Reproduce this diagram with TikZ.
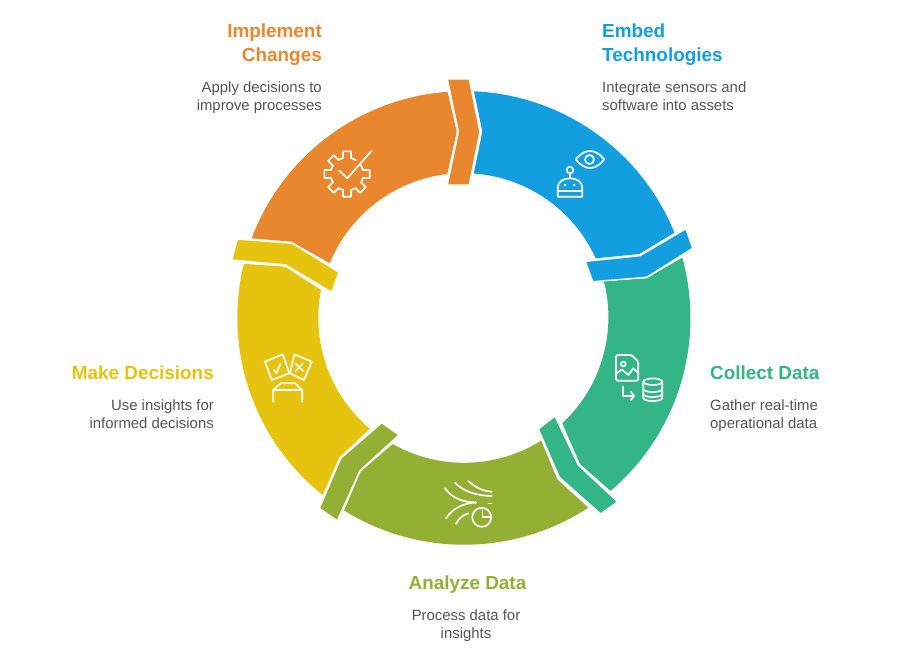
\documentclass[tikz,border=0pt]{standalone}
\usepackage{fontspec}
\setmainfont{Liberation Sans}
\definecolor{embedblue}{HTML}{139FDF}
\definecolor{changeorange}{HTML}{E9872E}
\definecolor{decideyellow}{HTML}{E5C30E}
\definecolor{analyzeolive}{HTML}{93B034}
\definecolor{collectteal}{HTML}{33B585}
\definecolor{bodygrey}{HTML}{555555}
\tikzset{
    tabshape/.style={draw=white,line width=1.4pt,line join=miter},
    iconline/.style={draw=white,line width=1.7pt,line cap=round,line join=round},
    headleft/.style={anchor=north west,inner sep=0pt,align=left,font=\fontsize{18.9}{24}\selectfont\bfseries},
    headright/.style={anchor=north east,inner sep=0pt,align=right,font=\fontsize{18.9}{24}\selectfont\bfseries},
    headmid/.style={anchor=north,inner sep=0pt,align=center,font=\fontsize{18.9}{24}\selectfont\bfseries},
    bodyleft/.style={anchor=north west,inner sep=0pt,align=left,text=bodygrey,font=\fontsize{14.9}{18}\selectfont},
    bodyright/.style={anchor=north east,inner sep=0pt,align=right,text=bodygrey,font=\fontsize{14.9}{18}\selectfont},
    bodymid/.style={anchor=north,inner sep=0pt,align=center,text=bodygrey,font=\fontsize{14.9}{18}\selectfont},
}
\begin{document}
\begin{tikzpicture}[x=1pt,y=-1pt]
    \useasboundingbox (0,0) rectangle (924,654);
    % ring segments
    \fill[embedblue] (474,91.3) arc[start angle=87.5,end angle=22.1,radius=227pt] -- (639.3,254) -- (595.7,258.3) arc[start angle=24.4,end angle=86,radius=145pt] -- (482.3,131.7) -- cycle;
    \fill[collectteal] (682.3,257.7) arc[start angle=15.4,end angle=-49.6,radius=227pt] -- (580,464) -- (562.3,423.3) arc[start angle=-47,end angle=14.4,radius=145pt] -- (646.7,278.3) -- cycle;
    \fill[analyzeolive] (588.3,507.7) arc[start angle=303.2,end angle=238.1,radius=227pt] -- (360.7,471.7) -- (392.7,444) arc[start angle=240.5,end angle=302.1,radius=145pt] -- (557.3,479.3) -- cycle;
    \fill[decideyellow] (322.7,495) arc[start angle=231.4,end angle=166.3,radius=227pt] -- (285,266.7) -- (321,290) arc[start angle=168.9,end angle=229.8,radius=145pt] -- (339.3,457.3) -- cycle;
    \fill[changeorange] (251.7,238.3) arc[start angle=159.4,end angle=94.2,radius=227pt] -- (456.7,131.7) -- (447.3,174) arc[start angle=96.6,end angle=157.8,radius=145pt] -- (291.7,241.7) -- cycle;
    % tabs
    \filldraw[tabshape,fill=embedblue] (585.3,261.3) -- (640,255.7) -- (686,228.7) -- (692.7,248.3) -- (646.7,277.3) -- (592.7,281.7) -- cycle;
    \filldraw[tabshape,fill=collectteal] (538.3,429) -- (555,416) -- (578.3,465) -- (617.7,501.7) -- (600.7,514) -- (559.3,477.3) -- cycle;
    \filldraw[tabshape,fill=analyzeolive] (381.7,422.7) -- (399,435) -- (360,470.7) -- (337.3,520.7) -- (319.3,508.3) -- (340.7,458.3) -- cycle;
    \filldraw[tabshape,fill=decideyellow] (237.3,239) -- (292.7,243.3) -- (339,272.3) -- (331.7,292.3) -- (285.7,265) -- (231.7,260) -- cycle;
    \filldraw[tabshape,fill=changeorange] (447.3,79) -- (469.3,79) -- (480,131.7) -- (469.3,185) -- (447.3,185) -- (458.3,131.7) -- cycle;
    % eye and robot
    \draw[iconline] (575.7,159.3) .. controls (580,154) and (585,151) .. (590,151) .. controls (595,151) and (600,154) .. (604.3,159.3) .. controls (600,165) and (595,168) .. (590,168) .. controls (585,168) and (580,165) .. (575.7,159.3) -- cycle;
    \draw[iconline] (589.5,159.5) circle (4.5pt);
    \draw[iconline] (570,170) circle (3.3pt);
    \draw[iconline] (570,173.5) -- (570,178.3);
    \draw[iconline] (557.7,188) .. controls (557.7,182) and (563,178.3) .. (570,178.3) .. controls (577,178.3) and (582.3,182) .. (582.3,188) -- (582.3,196.7) -- (557.7,196.7) -- cycle;
    \draw[iconline] (557.7,190.7) -- (582.3,190.7);
    \fill[white] (565,185) circle (1.4pt) (574.3,185) circle (1.4pt);
    % file and database
    \draw[iconline,rounded corners=1.5pt] (616,355) -- (631.7,355) -- (638.3,361.7) -- (638.3,380.7) -- (616,380.7) -- cycle;
    \draw[iconline] (623.3,364) circle (2.4pt);
    \draw[iconline] (616.5,373.5) -- (621.7,369.5) -- (628.3,375) -- (633.3,368.3) -- (638,372.7);
    \draw[iconline] (623.3,386.7) -- (623.3,396) -- (634.3,396);
    \draw[iconline] (630.7,391.7) -- (634.3,396) -- (630.7,400);
    \draw[iconline] (652.8,381.7) ellipse (9.5pt and 3.3pt);
    \draw[iconline] (643.3,381.7) -- (643.3,398) .. controls (643.3,402) and (662.3,402) .. (662.3,398) -- (662.3,381.7);
    \draw[iconline] (643.3,389) .. controls (643.3,393) and (662.3,393) .. (662.3,389);
    \draw[iconline] (643.3,394) .. controls (643.3,398) and (662.3,398) .. (662.3,394);
    % streams and pie
    \draw[iconline] (445,488.3) .. controls (453,499) and (463,502) .. (476,502.5);
    \draw[iconline] (455,482.7) .. controls (463,491) and (475,495.5) .. (491.7,496);
    \draw[iconline] (468.3,481) .. controls (475,487) and (482,491) .. (491.7,491.7);
    \draw[iconline] (446,518.3) .. controls (452,509) and (463,503) .. (476,502.5);
    \draw[iconline] (456,524) .. controls (458,519) and (463,515) .. (468.3,513.3);
    \draw[iconline] (488.5,503.5) -- (491.5,503.5);
    \draw[iconline] (481.7,517.3) circle (9.5pt);
    \draw[iconline] (482.5,510) -- (482.5,517) -- (490.5,517);
    % cards and table
    \draw[iconline] (265,361.7) -- (282.7,354.3) -- (289.3,373.3) -- (271.7,380) -- cycle;
    \draw[iconline] (274,370) -- (276.5,373) -- (280.5,363.5);
    \draw[iconline] (294.3,354.3) -- (311.7,361.7) -- (304,380) -- (290,373.3) -- cycle;
    \draw[iconline] (295.5,363.5) -- (303,371) (303,363.5) -- (295.5,371);
    \draw[iconline] (273.3,401.7) -- (273.3,390) -- (280.7,383.3) -- (295,383.3) -- (302.3,390) -- (302.3,401.7);
    \draw[iconline] (273.3,390) -- (302.3,390);
    % gear and tick
    \begin{scope}[shift={(347,174)}]
        \foreach \a in {0,90,135,180,225,270,315} {
            \draw[iconline] ({\a-14}:16.5pt) -- ({\a-10}:23pt) -- ({\a+10}:23pt) -- ({\a+14}:16.5pt);
        }
        \foreach \a in {104,149,194,239,284,329} {
            \draw[iconline] (\a:16.5pt) arc[start angle=\a,end angle=\a+17,radius=16.5pt];
        }
        \draw[iconline] (14:16.5pt) arc[start angle=14,end angle=32,radius=16.5pt];
        \draw[iconline] (76:16.5pt) arc[start angle=76,end angle=58,radius=16.5pt];
    \end{scope}
    \draw[iconline] (339.3,170.7) -- (347.3,178.3) -- (371.7,150.7);
    % labels
    \node[headright,text=changeorange] (changehead) at (322,24) {Implement\\Changes};
    \node[bodyright] (changebody) at (322,81.5) {Apply decisions to\\improve processes};
    \node[headleft,text=embedblue] (embedhead) at (602,24) {Embed\\Technologies};
    \node[bodyleft] (embedbody) at (602,81.5) {Integrate sensors and\\software into assets};
    \node[headleft,text=collectteal] (collecthead) at (710,366) {Collect Data};
    \node[bodyleft] (collectbody) at (710,399.5) {Gather real-time\\operational data};
    \node[headright,text=decideyellow] (decidehead) at (214,366) {Make Decisions};
    \node[bodyright] (decidebody) at (214,399.5) {Use insights for\\informed decisions};
    \node[headmid,text=analyzeolive] (analyzehead) at (467.5,576) {Analyze Data};
    \node[bodymid] (analyzebody) at (466,609.5) {Process data for\\insights};
\end{tikzpicture}
\end{document}
